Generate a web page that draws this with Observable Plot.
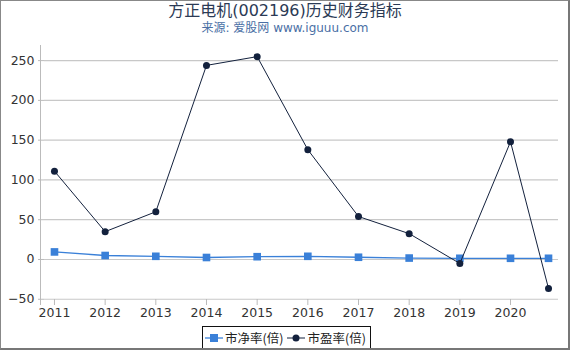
<!DOCTYPE html>
<html><head><meta charset="utf-8">
<script src="https://cdn.jsdelivr.net/npm/d3@7"></script>
<script src="https://cdn.jsdelivr.net/npm/@observablehq/plot@0.6"></script>
<style>
html,body{margin:0;padding:0;background:#fff;}
#wrap{position:relative;width:570px;height:350px;box-sizing:border-box;overflow:hidden;font-family:"DejaVu Sans","Noto Sans CJK SC",sans-serif;}
#frame{position:absolute;left:0;top:0;width:570px;height:350px;box-sizing:border-box;border-left:1px solid #888;border-top:1px solid #888;border-right:2px solid #777;border-bottom:2px solid #777;pointer-events:none;}
#title{position:absolute;left:0;width:570px;top:0px;text-align:center;font-size:16px;color:#2b3a55;line-height:22px;}
#sub{position:absolute;left:0;width:570px;top:19px;text-align:center;font-size:12px;color:#4a6fa5;line-height:18px;}
#plot{position:absolute;left:0;top:0;}
#legend{position:absolute;left:202px;top:326px;width:169px;height:26px;box-sizing:border-box;border:1px solid #111;background:#fff;font-family:"Noto Sans CJK SC",sans-serif;font-size:12.5px;color:#222;display:flex;align-items:center;padding:0 0 3px 2px;gap:4px;white-space:nowrap;}
.it{display:flex;align-items:center;gap:2px;white-space:nowrap;}
</style></head>
<body><div id="wrap">
<div id="title">方正电机(002196)历史财务指标</div>
<div id="sub">来源: 爱股网 www.iguuu.com</div>
<div id="plot"></div>
<div id="legend"></div>
<div id="frame"></div>
</div>
<script>
const years = [2011, 2012, 2013, 2014, 2015, 2016, 2017, 2018, 2019, 2020, 2020.75];
const pb = [9.5, 5, 4, 2.5, 3.5, 4, 2.8, 1.8, 1.5, 1.5, 1.5];
const pe = [111, 35, 60, 244, 255, 138, 54, 32.5, -5, 148, -36.5];
const xTicks = [2011, 2012, 2013, 2014, 2015, 2016, 2017, 2018, 2019, 2020];
const yTicks = [-50, 0, 50, 100, 150, 200, 250];
const seriesNames = ["市净率(倍)", "市盈率(倍)"];
const colors = ["#3a80d8", "#13213d"];

const pbData = years.map((y, i) => ({x: y, v: pb[i]}));
const peData = years.map((y, i) => ({x: y, v: pe[i]}));

const chart = Plot.plot({
  width: 570, height: 350,
  marginLeft: 44, marginRight: 12, marginTop: 45, marginBottom: 51,
  style: {fontFamily: "DejaVu Sans, sans-serif", fontSize: "12px", color: "#333", background: "transparent"},
  x: {domain: [2010.803, 2020.947], ticks: xTicks, tickFormat: "d", tickSize: 6, tickPadding: 3, label: null},
  y: {domain: [-50.3, 269], ticks: yTicks, tickSize: 6, tickPadding: 4, label: null},
  marks: [
    Plot.ruleY(yTicks, {stroke: "#c8c8c8", strokeWidth: 1.2}),
    Plot.ruleX([2010.803], {dx: -4, stroke: "#bbb", insetBottom: -6}),
    Plot.axisY({ticks: yTicks, tickSize: 6, tickPadding: 4, stroke: "#bbb", fontSize: 12.5, color: "#333"}),
    Plot.axisX({ticks: xTicks, tickFormat: "d", tickSize: 6, tickPadding: 3, stroke: "#bbb", fontSize: 12.5}),
    Plot.line(pbData, {x: "x", y: "v", stroke: colors[0], strokeWidth: 1.3}),
    Plot.dot(pbData, {x: "x", y: "v", symbol: "square", r: 4.3, fill: colors[0], stroke: "none"}),
    Plot.line(peData, {x: "x", y: "v", stroke: colors[1], strokeWidth: 1}),
    Plot.dot(peData, {x: "x", y: "v", r: 3.5, fill: colors[1], stroke: "none"})
  ]
});
document.getElementById("plot").appendChild(chart);

const lg = document.getElementById("legend");
seriesNames.forEach((n, i) => {
  const d = document.createElement("span"); d.className = "it";
  const sym = i === 0
    ? `<svg width="18" height="10"><line x1="0" y1="5" x2="18" y2="5" stroke="${colors[0]}" stroke-width="1.3"/><rect x="5" y="1" width="8" height="8" fill="${colors[0]}"/></svg>`
    : `<svg width="18" height="10"><line x1="0" y1="5" x2="18" y2="5" stroke="${colors[1]}" stroke-width="1"/><circle cx="9" cy="5" r="3.5" fill="${colors[1]}"/></svg>`;
  d.innerHTML = sym + `<span>${n}</span>`;
  lg.appendChild(d);
});
</script>
</body></html>
